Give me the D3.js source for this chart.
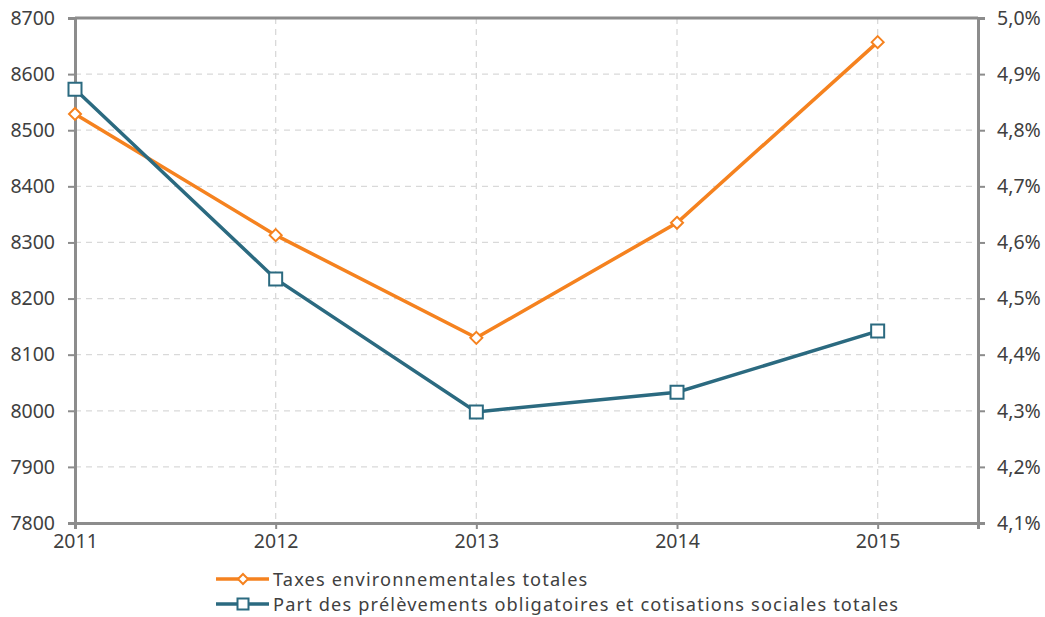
<!DOCTYPE html>
<html>
<head>
<meta charset="utf-8">
<script src="https://cdn.jsdelivr.net/npm/d3@7"></script>
<style>
  body { margin: 0; background: #fff; }
  text { font-family: "Noto Sans", sans-serif; fill: #404040; }
</style>
</head>
<body>
<svg id="chart" width="1045" height="617"></svg>
<script>
// data
var years = [2011, 2012, 2013, 2014, 2015]
  , taxes = [8529, 8313, 8130, 8335, 8657]
  , part = [4.873, 4.535, 4.298, 4.333, 4.442]
  , leftTicks = [7800, 7900, 8000, 8100, 8200, 8300, 8400, 8500, 8600, 8700]
  , rightTicks = [4.1, 4.2, 4.3, 4.4, 4.5, 4.6, 4.7, 4.8, 4.9, 5.0]
  , seriesNames = ["Taxes environnementales totales",
                   "Part des prélèvements obligatoires et cotisations sociales totales"]
;

var svg = d3.select("#chart")
  , margin = {top: 18, right: 67, bottom: 94, left: 75}
  , width = 1045 - margin.left - margin.right
  , height = 617 - margin.top - margin.bottom
  , orange = "#f5821f"
  , blue = "#2b6a80"
  , axisColor = "#8c8c8c"
  , fontSize = "19.5px"
;

var x = d3.scaleLinear().domain([2011, 2015.5]).range([0, width])
  , yL = d3.scaleLinear().domain([7800, 8700]).range([height, 0])
  , yR = d3.scaleLinear().domain([4.1, 5.0]).range([height, 0])
;

var g = svg.append("g")
    .attr("transform", "translate(" + margin.left + "," + margin.top + ")");

// grid
g.append("g").selectAll("line")
    .data(leftTicks.slice(1))
  .enter().append("line")
    .attr("x1", 0).attr("x2", width)
    .attr("y1", function(d) { return yL(d); })
    .attr("y2", function(d) { return yL(d); })
    .attr("stroke", "#d9d9d9").attr("stroke-width", 1.3)
    .attr("stroke-dasharray", "6 5");

g.append("g").selectAll("line")
    .data(years.slice(1))
  .enter().append("line")
    .attr("x1", function(d) { return x(d); })
    .attr("x2", function(d) { return x(d); })
    .attr("y1", 0).attr("y2", height)
    .attr("stroke", "#d9d9d9").attr("stroke-width", 1.3)
    .attr("stroke-dasharray", "6 5");

// frame top
g.append("line")
    .attr("x1", 0).attr("x2", width).attr("y1", 0).attr("y2", 0)
    .attr("stroke", axisColor).attr("stroke-width", 3);

// axes
function styleAxis(sel) {
  sel.select(".domain").attr("stroke", axisColor).attr("stroke-width", 3);
  sel.selectAll(".tick line").attr("stroke", axisColor).attr("stroke-width", 2);
  sel.selectAll(".tick text")
      .style("font-family", "'Noto Sans', sans-serif")
      .style("font-size", fontSize)
      .attr("fill", "#404040");
}

g.append("g")
    .call(d3.axisLeft(yL).tickValues(leftTicks).tickSize(7).tickPadding(13)
      .tickFormat(d3.format("d")))
    .call(styleAxis);

g.append("g")
    .attr("transform", "translate(" + width + ",0)")
    .call(d3.axisRight(yR).tickValues(rightTicks).tickSize(7).tickPadding(12)
      .tickFormat(function(d) { return d.toFixed(1).replace(".", ",") + "%"; }))
    .call(styleAxis);

g.append("g")
    .attr("transform", "translate(0," + height + ")")
    .call(d3.axisBottom(x).tickValues(years).tickSize(6).tickPadding(5)
      .tickFormat(d3.format("d")))
    .call(styleAxis);

// lines
var lineL = d3.line().x(function(d, i) { return x(years[i]); }).y(function(d) { return yL(d); })
  , lineR = d3.line().x(function(d, i) { return x(years[i]); }).y(function(d) { return yR(d); })
;

g.append("path").datum(taxes)
    .attr("d", lineL).attr("fill", "none")
    .attr("stroke", orange).attr("stroke-width", 3.5);

g.append("path").datum(part)
    .attr("d", lineR).attr("fill", "none")
    .attr("stroke", blue).attr("stroke-width", 3.5);

var diamond = "M0,-6L6,0L0,6L-6,0Z"
  , square = "M-6.5,-6.5H6.5V6.5H-6.5Z"
;

g.append("g").selectAll("path")
    .data(part)
  .enter().append("path")
    .attr("d", square)
    .attr("transform", function(d, i) { return "translate(" + x(years[i]) + "," + yR(d) + ")"; })
    .attr("fill", "#fff").attr("stroke", blue).attr("stroke-width", 2);

g.append("g").selectAll("path")
    .data(taxes)
  .enter().append("path")
    .attr("d", diamond)
    .attr("transform", function(d, i) { return "translate(" + x(years[i]) + "," + yL(d) + ")"; })
    .attr("fill", "#fff").attr("stroke", orange).attr("stroke-width", 2);

// legend
var legend = svg.append("g").attr("transform", "translate(216,579)")
  , colors = [orange, blue]
;

var item = legend.selectAll("g")
    .data(seriesNames)
  .enter().append("g")
    .attr("transform", function(d, i) { return "translate(0," + (i * 25) + ")"; });

item.append("line")
    .attr("x1", 0).attr("x2", 53).attr("y1", 0).attr("y2", 0)
    .attr("stroke", function(d, i) { return colors[i]; })
    .attr("stroke-width", 3.5);

item.append("path")
    .attr("d", function(d, i) { return i ? "M-5.5,-5.5H5.5V5.5H-5.5Z" : "M0,-5L5,0L0,5L-5,0Z"; })
    .attr("transform", "translate(27,0)")
    .attr("fill", "#fff")
    .attr("stroke", function(d, i) { return colors[i]; })
    .attr("stroke-width", 2);

item.append("text")
    .attr("x", 57).attr("y", 7)
    .style("font-size", "18.2px")
    .style("letter-spacing", "1.15px")
    .text(function(d) { return d; });
</script>
</body>
</html>
